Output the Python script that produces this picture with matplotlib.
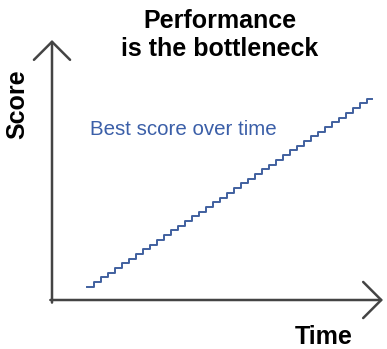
import matplotlib
matplotlib.use('Agg')
import matplotlib.pyplot as plt

plt.rcParams['font.family'] = ['Liberation Sans', 'DejaVu Sans']

# Staircase: time step index and best score at each step
time_steps = [5, 6, 7, 8, 9, 10, 11, 12, 13, 14, 15, 16, 17, 18, 19, 20, 21,
              22, 23, 24, 25, 26, 27, 28, 29, 30, 31, 32, 33, 34, 35, 36, 37,
              38, 39, 40, 41, 42, 43, 44, 45, 45.7]
best_score = [2.8, 3.8, 4.8, 5.8, 6.8, 7.8, 8.8, 9.8, 10.8, 11.8, 12.8, 13.8,
              14.8, 15.8, 16.8, 17.8, 18.8, 19.8, 20.8, 21.8, 22.8, 23.8, 24.8,
              25.8, 26.8, 27.8, 28.8, 29.8, 30.8, 31.8, 32.8, 33.8, 34.8, 35.8,
              36.8, 37.8, 38.8, 39.8, 40.8, 41.8, 42.8, 42.8]

title_text = 'Performance\nis the bottleneck'
series_label = 'Best score over time'

fig = plt.figure(figsize=(3.87, 3.49), dpi=100)
ax = fig.add_axes([52 / 387, 49 / 349, 331 / 387, 260 / 349])
ax.set_xlim(0, 47.3)
ax.set_ylim(0, 55.3)
ax.axis('off')

ax.plot(time_steps, best_score, drawstyle='steps-post', color='#40609f', lw=1.4)

# axes drawn as arrows
arrow = dict(arrowstyle='->, head_length=1.3, head_width=1.3', color='#444444', lw=1.8,
             shrinkA=0, shrinkB=0)
ax.annotate('', xy=(0, 1), xytext=(0, -0.01), xycoords='axes fraction', arrowprops=arrow)
ax.annotate('', xy=(1, 0), xytext=(-0.005, 0), xycoords='axes fraction', arrowprops=arrow)

fig.text(220 / 387, 1 - 35 / 349, title_text, ha='center', va='center',
         fontsize=18, fontweight='bold', linespacing=1.2)
fig.text(17 / 387, 1 - 104 / 349, 'Score', rotation=90, ha='center', va='center',
         fontsize=18, fontweight='bold')
fig.text(324 / 387, 1 - 337 / 349, 'Time', ha='center', va='center',
         fontsize=18, fontweight='bold')
fig.text(90 / 387, 1 - 130 / 349, series_label, ha='left', va='center',
         fontsize=14.8, color='#3b5fa8')

fig.savefig('out.png', dpi=100)
